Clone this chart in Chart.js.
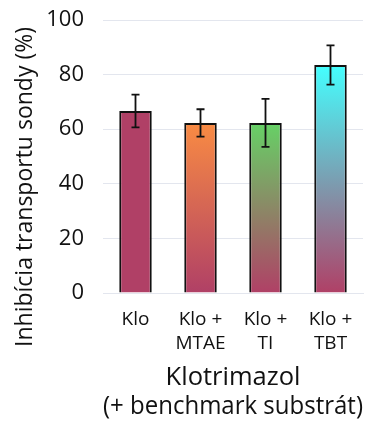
<!DOCTYPE html>
<html lang="sk">
<head>
<meta charset="UTF-8">
<title>Inhibícia transportu sondy</title>
<script src="https://cdn.jsdelivr.net/npm/chart.js"></script>
<style>
  html, body { margin: 0; padding: 0; background: #fff; }
  #wrap { width: 379px; height: 421px; }
</style>
</head>
<body>
<div id="wrap"><canvas id="chart" width="379" height="421"></canvas></div>
<script>
const labels = [['Klo'], ['Klo +', 'MTAE'], ['Klo +', 'TI'], ['Klo +', 'TBT']];
const values = [66.7, 62.3, 62.3, 83.5];
const errors = [6, 5, 8.8, 7.2];
const topColors = ['#b04066', '#f98b43', '#66d166', '#44ffff'];
const baseColor = '#b04066';

const font = "'Open Sans', sans-serif";

// vertical gradient per bar: top colour at the value, crimson at zero
function barFill(ctx) {
  const chart = ctx.chart;
  const y = chart.scales.y;
  if (!y || !chart.chartArea) return topColors[ctx.dataIndex];
  const top = y.getPixelForValue(values[ctx.dataIndex]);
  const bottom = y.getPixelForValue(0);
  const g = chart.ctx.createLinearGradient(0, top, 0, bottom);
  g.addColorStop(0, topColors[ctx.dataIndex]);
  g.addColorStop(1, baseColor);
  return g;
}

const errorBars = {
  id: 'errorBars',
  afterDatasetsDraw(chart) {
    const c = chart.ctx;
    const meta = chart.getDatasetMeta(0);
    const y = chart.scales.y;
    c.save();
    c.strokeStyle = '#111';
    c.lineWidth = 1.8;
    meta.data.forEach((bar, i) => {
      const hi = y.getPixelForValue(values[i] + errors[i]);
      const lo = y.getPixelForValue(values[i] - errors[i]);
      c.beginPath();
      c.moveTo(bar.x, hi); c.lineTo(bar.x, lo);
      c.moveTo(bar.x - 4, hi); c.lineTo(bar.x + 4, hi);
      c.moveTo(bar.x - 4, lo); c.lineTo(bar.x + 4, lo);
      c.stroke();
    });
    c.restore();
  }
};

const yTitle = {
  id: 'yTitle',
  afterDraw(chart) {
    const c = chart.ctx;
    c.save();
    c.translate(25, 187);
    c.rotate(-Math.PI / 2);
    c.fillStyle = '#111';
    c.font = '23px ' + font;
    c.textAlign = 'center';
    c.textBaseline = 'middle';
    c.fillText('Inhibícia transportu sondy (%)', 0, 0);
    c.restore();
  }
};

new Chart(document.getElementById('chart'), {
  type: 'bar',
  data: {
    labels: labels,
    datasets: [{
      data: values,
      backgroundColor: barFill,
      borderColor: '#111',
      borderWidth: 2,
      barPercentage: 0.5,
      categoryPercentage: 1.0
    }]
  },
  options: {
    responsive: false,
    animation: false,
    layout: { padding: { top: 0, right: 16, left: 0, bottom: 0 } },
    plugins: {
      legend: { display: false },
      tooltip: { enabled: false }
    },
    scales: {
      y: {
        min: 0, max: 100,
        ticks: { stepSize: 20, color: '#111', font: { size: 22, family: font }, padding: 19 },
        grid: { color: '#e3e6ee', drawTicks: false },
        border: { display: false },
        afterFit(s) { s.width = 103; s.paddingTop = 20; s.paddingBottom = 12; }
      },
      x: {
        ticks: { color: '#111', font: { size: 19, family: font, lineHeight: 1.3 }, padding: 14, maxRotation: 0 },
        grid: { display: false, drawTicks: false },
        border: { color: '#e3e6ee' },
        title: {
          display: true,
          text: ['Klotrimazol', '(+ benchmark substrát)'],
          color: '#111',
          font: { size: 25.5, family: font, lineHeight: 1.12 },
          padding: { top: 0, bottom: 0 }
        },
        afterFit(s) { s.height = 128; }
      }
    }
  },
  plugins: [errorBars, yTitle]
});
</script>
</body>
</html>
